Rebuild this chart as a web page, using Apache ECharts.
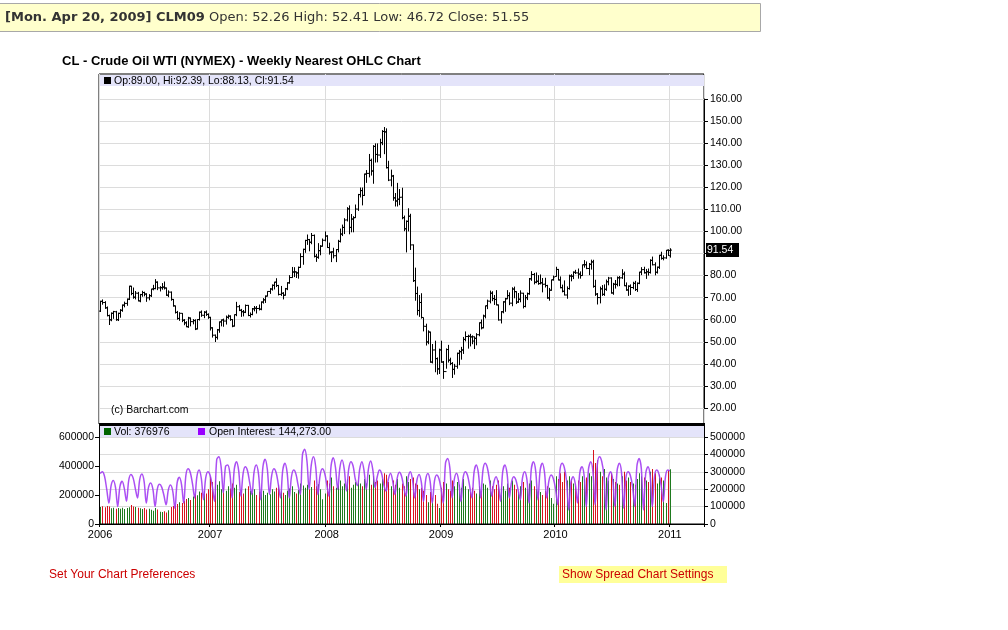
<!DOCTYPE html>
<html>
<head>
<meta charset="utf-8">
<title>CL - Crude Oil WTI (NYMEX) - Weekly Nearest OHLC Chart</title>
<script src="https://cdn.jsdelivr.net/npm/echarts@6/dist/echarts.min.js"></script>
<style>
html,body{margin:0;padding:0;background:#fff;}
#chart{width:1008px;height:630px;}
</style>
</head>
<body>
<div id="chart"></div>
<script>
// weekly bars: first bar is the week of Jan 16 2006, last one the week of Jan 3 2011
var firstWeek = '2006-01-16';
var emptyWeeks = 15;   // blank weeks right of the last bar

var opens = [
  63.9,68.3,67.8,65.4,61.9,60.0,62.9,63.6,60.0,62.9,64.3,66.6,67.4,69.3,75.2,71.9,70.2,72.0,68.5,71.4,72.3,71.6,69.9,70.9,73.9,74.1,77.0,74.4,74.5,74.8,74.4,71.1,72.5,69.2,66.3,63.3,60.6,62.9,59.8,58.6,56.8,60.8,59.1,59.6,55.8,60.1,63.4,62.0,63.4,62.4,
  61.1,56.3,53.0,52.0,55.4,59.0,59.9,59.4,61.1,61.6,60.1,57.1,62.3,65.9,64.3,63.6,63.4,66.5,61.9,62.4,64.9,65.2,65.1,64.8,68.0,69.0,70.7,72.8,73.9,75.6,77.0,75.5,71.5,72.0,71.1,74.0,76.7,79.1,81.6,81.7,81.2,83.7,88.6,91.9,95.9,96.3,95.1,98.2,88.7,88.3,91.3,93.3,96.0,
  97.9,92.7,90.6,90.7,89.0,91.8,95.5,98.8,101.8,105.2,110.2,101.8,105.6,106.2,110.1,116.7,118.5,116.3,126.0,126.3,132.2,127.4,138.5,134.9,134.6,140.2,145.3,145.1,128.9,123.3,125.1,115.2,113.8,114.6,115.5,106.2,101.2,104.6,106.9,93.9,77.7,71.9,64.2,67.8,61.0,57.0,49.9,54.4,40.8,46.3,42.4,37.7,
  46.3,40.8,36.5,46.5,41.7,40.2,37.5,38.9,44.8,45.5,46.3,51.1,52.4,52.5,52.2,52.26,51.6,53.2,58.6,56.3,61.7,66.3,68.4,72.0,69.6,69.2,66.7,59.9,63.6,68.1,69.5,70.9,67.5,73.9,72.7,68.0,69.3,72.0,66.0,70.0,71.8,78.5,80.5,77.0,77.4,76.4,76.7,76.1,75.5,69.9,73.4,78.1,
  79.6,82.8,78.0,74.5,72.9,71.2,74.1,79.8,79.7,81.5,81.2,80.7,80.0,84.9,84.9,83.2,85.1,86.2,75.1,71.6,70.0,74.0,71.5,73.8,77.2,78.9,72.1,76.1,76.0,79.0,79.0,80.7,75.4,73.5,75.2,74.6,76.5,73.7,76.5,81.6,82.7,81.3,81.7,81.4,86.9,84.9,81.5,83.8,89.2,87.8,88.0,91.5,89.00
];
var highs = [
  68.6,69.2,68.4,66.0,62.3,63.3,64.0,64.0,63.2,64.8,66.9,68.2,69.6,75.4,75.35,74.6,73.0,72.6,71.7,73.1,72.7,72.0,71.6,74.0,75.8,78.4,77.4,75.2,76.6,77.3,74.6,73.3,72.8,69.4,66.4,64.0,63.4,63.0,60.3,59.3,61.3,61.0,60.3,60.2,60.3,63.7,64.2,63.9,64.2,62.9,
  61.3,56.6,53.3,55.8,59.2,60.1,60.5,61.9,62.3,62.0,60.3,62.4,68.1,66.7,64.9,64.4,66.9,66.7,63.3,65.3,66.2,66.2,66.9,68.3,69.8,71.0,72.9,74.3,76.0,77.2,78.8,75.8,75.3,72.5,74.4,77.0,80.2,83.9,83.8,81.8,84.1,90.1,92.2,96.2,98.6,96.6,99.3,98.6,89.8,94.7,93.8,96.8,100.0,
  98.3,94.9,91.0,92.6,92.0,96.2,101.3,103.1,106.0,111.0,111.8,107.9,106.9,112.2,117.0,119.9,119.9,126.2,127.8,135.1,133.0,139.1,139.9,139.9,142.0,145.9,147.3,146.7,132.0,128.0,125.6,117.4,122.0,119.2,119.8,107.2,105.0,110.5,108.0,94.1,83.6,75.0,71.2,72.0,61.0,58.2,55.2,54.6,49.0,50.5,42.9,46.9,
  50.5,41.3,47.0,48.6,42.8,40.8,40.0,45.1,46.3,47.7,52.2,54.7,53.2,53.6,52.9,52.41,53.9,58.8,60.1,62.3,66.4,69.1,73.2,72.9,71.2,73.4,66.9,63.9,68.4,69.9,73.4,72.4,74.7,75.0,72.9,72.1,73.3,72.2,71.2,72.3,78.9,82.0,81.2,81.4,80.2,80.5,78.9,79.0,75.8,74.4,78.2,80.0,
  84.0,83.0,79.6,75.9,77.8,75.1,80.4,80.6,81.9,82.6,83.2,81.9,85.0,87.0,86.4,85.7,87.2,87.15,78.1,72.1,75.0,75.7,76.0,78.2,79.4,79.2,76.7,78.0,79.6,79.8,82.9,81.8,76.9,75.6,76.0,77.2,77.6,76.9,81.7,83.8,84.0,83.0,83.2,87.4,88.6,86.0,84.1,89.4,90.8,89.2,91.6,91.9,92.39
];
var lows = [
  63.5,66.8,64.9,61.5,57.6,59.3,60.4,59.5,59.4,60.9,63.6,65.6,66.3,68.9,71.1,69.5,69.2,68.3,67.9,70.4,70.6,68.1,68.8,70.3,73.3,73.8,73.4,72.8,73.6,73.7,70.8,70.2,68.6,65.9,62.8,60.0,59.5,58.9,57.5,56.6,56.3,57.0,57.9,55.3,55.6,59.6,61.3,60.7,61.7,60.4,
  55.1,51.9,49.9,51.0,54.1,57.0,56.8,57.8,60.4,59.5,56.6,56.9,61.6,63.9,61.3,61.5,63.0,61.6,61.0,62.0,63.8,62.8,64.2,64.3,67.3,67.6,70.5,71.7,73.2,73.7,74.8,71.0,70.8,69.2,70.9,73.4,76.3,79.0,79.3,78.9,78.6,83.5,84.9,90.3,93.9,91.0,94.2,88.2,86.2,87.6,89.2,93.1,95.5,
  92.5,89.5,86.1,87.8,86.1,90.5,95.0,97.9,98.8,104.5,98.7,99.6,99.6,106.1,109.3,115.4,111.8,116.1,122.0,124.5,125.3,121.6,131.2,131.3,133.3,139.1,135.0,128.5,122.8,120.4,113.9,111.3,111.3,111.9,105.5,100.1,90.5,100.0,91.6,77.1,68.6,62.0,61.3,60.5,54.7,48.3,48.9,40.5,40.2,36.2,35.1,35.4,
  40.5,33.2,37.8,40.6,39.4,33.6,35.1,37.8,39.4,41.9,44.5,50.2,46.9,47.9,48.9,46.72,48.4,52.5,55.6,56.1,60.6,64.8,67.4,68.4,66.7,66.5,59.6,58.3,62.9,63.6,69.3,66.6,66.1,69.7,67.1,67.6,67.9,65.1,65.6,68.9,71.3,77.6,76.0,76.5,75.8,76.0,72.4,74.6,69.5,68.6,73.1,77.7,
  79.5,77.8,74.2,72.4,71.0,69.5,73.6,77.4,78.4,80.7,78.6,78.6,79.9,83.6,82.9,80.2,82.7,74.5,70.8,66.9,67.4,70.8,70.8,73.1,75.6,71.8,71.3,74.1,75.1,75.2,78.5,75.2,73.1,70.8,71.2,73.8,73.0,72.6,76.1,80.2,80.9,78.5,80.0,80.9,84.6,80.1,80.9,83.0,87.2,86.9,87.6,88.9,88.13
];
var closes = [
  68.35,67.76,65.37,61.84,59.88,62.91,63.67,60.00,62.86,64.26,66.63,67.39,69.32,75.17,71.88,70.19,72.04,68.53,71.37,72.33,71.63,69.89,70.87,73.93,74.09,77.03,74.43,74.54,74.76,74.35,71.14,72.51,69.20,66.25,63.33,60.55,62.91,59.76,58.57,56.82,60.75,59.14,59.58,55.81,60.08,63.43,62.03,63.43,62.41,61.05,
  56.31,52.99,51.99,55.42,59.02,59.89,59.39,61.14,61.64,60.05,57.11,62.28,65.87,64.28,63.63,63.38,66.46,61.93,62.37,64.94,65.20,65.08,64.76,68.00,68.99,70.68,72.81,73.93,75.57,77.02,75.48,71.47,71.98,71.09,74.04,76.70,79.10,81.62,81.66,81.22,83.69,88.60,91.86,95.93,96.32,95.10,98.18,88.71,88.28,91.27,93.31,96.00,97.91,
  92.69,90.57,90.71,88.96,91.77,95.50,98.81,101.84,105.15,110.21,101.84,105.62,106.23,110.14,116.69,118.52,116.32,125.96,126.29,132.19,127.35,138.54,134.86,134.62,140.21,145.29,145.08,128.88,123.26,125.10,115.20,113.77,114.59,115.46,106.23,101.18,104.55,106.89,93.88,77.70,71.85,64.15,67.81,61.04,57.04,49.93,54.43,40.81,46.28,42.36,37.71,46.34,
  40.83,36.51,46.47,41.68,40.17,37.51,38.94,44.76,45.52,46.25,51.06,52.38,52.51,52.24,50.33,51.55,53.20,58.63,56.34,61.67,66.31,68.44,72.04,69.55,69.16,66.73,59.89,63.56,68.05,69.45,70.93,67.51,73.89,72.74,68.02,69.29,72.04,66.02,69.95,71.77,78.53,80.50,77.00,77.43,76.35,76.72,76.05,75.47,69.87,73.36,78.05,79.36,
  82.75,78.00,74.54,72.89,71.19,74.13,79.81,79.66,81.50,81.24,80.68,80.00,84.87,84.92,83.24,85.12,86.15,75.11,71.61,70.04,73.97,71.51,73.78,77.18,78.86,72.14,76.09,76.01,78.98,78.95,80.70,75.39,73.46,75.17,74.60,76.45,73.66,76.49,81.58,82.66,81.25,81.69,81.43,86.85,84.88,81.51,83.76,89.19,87.79,88.02,91.51,91.38,91.54
];
// weekly volume, thousands of contracts
var volumeK = [
  118,122,115,125,120,108,112,105,110,106,112,104,110,115,131,120,118,112,108,104,110,100,106,98,92,110,100,85,82,88,80,95,118,125,132,138,150,145,160,172,180,165,190,205,198,225,215,230,210,240,
  326,290,300,270,295,240,250,230,260,245,280,250,270,220,235,210,245,260,230,215,240,200,225,210,230,200,215,205,240,225,250,270,230,215,200,230,245,260,220,210,235,280,265,250,270,240,255,300,260,275,240,170,210,
  300,280,320,260,250,270,300,260,280,310,330,250,270,290,300,280,260,310,280,340,270,330,290,300,280,310,350,340,290,260,300,270,310,250,280,260,330,290,310,320,280,270,240,250,230,200,150,220,180,200,140,110,
  250,290,280,240,230,300,260,290,270,250,310,260,240,220,250,230,210,260,230,280,270,250,300,260,240,270,300,250,260,230,280,250,300,270,240,220,260,290,250,240,280,300,260,240,230,220,200,230,260,250,180,140,
  330,310,350,290,360,300,330,310,280,260,300,290,330,310,320,350,330,510,420,440,360,330,380,320,300,350,310,290,280,270,330,360,300,320,290,280,270,310,350,330,320,300,290,360,380,350,280,340,320,300,145,370,376.976
];
// open interest of the nearest contract, thousands
var openInterestK = [
  290,300,275,200,120, 220,250,210,100, 215,245,205,131, 250,285,265,205,150, 255,287,245,120, 210,236,200,100, 200,228,212,165,110, 195,224,190,90, 235,268,228,120, 280,318,296,230,150, 272,310,263,140, 265,301,280,217,130,
  370,387,330,180, 330,339,290,150, 315,358,305,160, 290,329,306,237,170, 300,339,288,140, 327,372,316,170, 280,318,296,229,150, 307,349,297,150, 273,310,288,223,170, 400,429,365,200, 340,387,329,170, 280,318,296,229,160,
  335,381,324,200, 324,368,313,190, 315,358,333,258,220, 315,358,304,200, 319,362,308,210, 273,310,288,223,190, 256,291,247,170, 261,297,276,214,160, 264,300,255,150, 250,285,242,130, 255,290,246,120, 248,282,262,203,120,
  350,377,320,150, 256,291,247,130, 265,301,280,217,150, 300,339,288,150, 307,349,325,251,160, 240,272,231,130, 300,339,288,150, 240,272,253,196,140, 265,301,256,120, 315,358,304,140, 307,349,297,150, 248,282,262,203,110,
  307,349,325,251,80, 240,272,231,120, 290,329,280,100, 315,358,304,110, 340,387,360,279,80, 265,301,256,100, 307,349,297,90, 265,301,280,217,100, 332,377,320,80, 290,329,280,100, 273,310,288,223,128, 273,310,305
];
var volumeLabel = 'Vol: 376976';
var oiLabel = 'Open Interest: 144,273.00';

var FONT = "'Liberation Sans', Arial, sans-serif";
var BANNER_FONT = "'DejaVu Sans', Verdana, sans-serif";
var GRID_COLOR = '#dcdcdc';
var UP = '#1e7a1e', DOWN = '#d8141c', OI_COLOR = '#a23cf2';

function weekList(start, n) {
  var t = Date.parse(start + 'T00:00:00Z'), out = [];
  for (var i = 0; i < n; i++) {
    out.push(new Date(t + i * 7 * 86400000).toISOString().slice(0, 10));
  }
  return out;
}
var weeks = weekList(firstWeek, closes.length + emptyWeeks);
function yearStart(index) {
  return index === 0 || weeks[index].slice(0, 4) !== weeks[index - 1].slice(0, 4);
}

var ohlcData = closes.map(function (c, i) { return [i, opens[i], highs[i], lows[i], c]; });
var volData = volumeK.map(function (v, i) { return [i, Math.round(v * 1000), closes[i] >= opens[i] ? 1 : 0]; });
var oiData = openInterestK.map(function (v) { return v * 1000; });

function renderOHLC(params, api) {
  var i = api.value(0);
  var o = api.coord([i, api.value(1)]);
  var h = api.coord([i, api.value(2)]);
  var l = api.coord([i, api.value(3)]);
  var c = api.coord([i, api.value(4)]);
  var x = Math.round(h[0]) + 0.5;
  var st = { stroke: '#000', lineWidth: 1 };
  return {
    type: 'group',
    children: [
      { type: 'line', shape: { x1: x, y1: h[1], x2: x, y2: l[1] }, style: st },
      { type: 'line', shape: { x1: x - 1.5, y1: o[1], x2: x, y2: o[1] }, style: st },
      { type: 'line', shape: { x1: x, y1: c[1], x2: x + 1.5, y2: c[1] }, style: st }
    ]
  };
}
function renderVolume(params, api) {
  var i = api.value(0);
  var top = api.coord([i, api.value(1)]);
  var base = api.coord([i, 0]);
  return {
    type: 'rect',
    shape: { x: Math.round(top[0]), y: top[1], width: 1, height: base[1] - top[1] },
    style: { fill: api.value(2) ? UP : DOWN }
  };
}

var last = closes.length - 1;
var legendText = 'Op:' + opens[last].toFixed(2) + ', Hi:' + highs[last].toFixed(2) +
  ', Lo:' + lows[last].toFixed(2) + ', Cl:' + closes[last].toFixed(2);

var axisFont = { fontFamily: FONT, fontSize: 10.5, color: '#000' };
function plain(v) { return String(v); }

var myChart = echarts.init(document.getElementById('chart'));
option = {
  animation: false,
  backgroundColor: '#fff',
  grid: [
    { left: 99, right: 304, top: 74, bottom: 206, show: true, borderColor: '#000', borderWidth: 1, backgroundColor: '#fff' },
    { left: 99, right: 304, top: 99, bottom: 222 },
    { left: 99, right: 304, top: 437, bottom: 106 }
  ],
  xAxis: [
    {
      gridIndex: 0, type: 'category', data: weeks, boundaryGap: true,
      axisLine: { show: false }, axisTick: { show: false }, axisLabel: { show: false },
      splitLine: { show: true, interval: yearStart, lineStyle: { color: GRID_COLOR } }
    },
    { gridIndex: 1, type: 'category', data: weeks, boundaryGap: true, show: false },
    {
      gridIndex: 2, type: 'category', data: weeks, boundaryGap: true,
      axisLine: { lineStyle: { color: '#000' } },
      axisTick: { show: true, interval: yearStart, length: 3, lineStyle: { color: '#000' } },
      axisLabel: {
        interval: yearStart, margin: 5, fontFamily: FONT, fontSize: 11, color: '#000',
        formatter: function (v) { return v.slice(0, 4); }
      },
      splitLine: { show: true, interval: yearStart, lineStyle: { color: GRID_COLOR } }
    }
  ],
  yAxis: [
    { gridIndex: 0, type: 'value', min: 0, max: 1, show: false },
    {
      gridIndex: 1, type: 'value', position: 'right', min: 20, max: 160, interval: 10,
      axisLine: { show: true, lineStyle: { color: '#000' } },
      axisTick: { show: true, length: 4, lineStyle: { color: '#000' } },
      axisLabel: Object.assign({ margin: 6, formatter: function (v) { return v.toFixed(2); } }, axisFont),
      splitLine: { show: true, lineStyle: { color: GRID_COLOR } }
    },
    {
      gridIndex: 2, type: 'value', position: 'left', min: 0, max: 600000, interval: 200000,
      axisLine: { show: true, lineStyle: { color: '#000' } },
      axisTick: { show: true, length: 4, lineStyle: { color: '#000' } },
      axisLabel: Object.assign({ margin: 5, formatter: plain }, axisFont),
      splitLine: { show: false }
    },
    {
      gridIndex: 2, type: 'value', position: 'right', min: 0, max: 500000, interval: 100000,
      axisLine: { show: true, lineStyle: { color: '#000' } },
      axisTick: { show: true, length: 4, lineStyle: { color: '#000' } },
      axisLabel: Object.assign({ margin: 6, formatter: plain }, axisFont),
      splitLine: { show: true, lineStyle: { color: GRID_COLOR } }
    }
  ],
  series: [
    {
      name: 'OHLC', type: 'custom', xAxisIndex: 1, yAxisIndex: 1,
      renderItem: renderOHLC, data: ohlcData, encode: { x: 0, y: [1, 2, 3, 4] }, z: 5
    },
    {
      name: 'Volume', type: 'custom', xAxisIndex: 2, yAxisIndex: 2,
      renderItem: renderVolume, data: volData, encode: { x: 0, y: 1 }, z: 3
    },
    {
      name: 'Open Interest', type: 'line', xAxisIndex: 2, yAxisIndex: 3,
      data: oiData, showSymbol: false, symbol: 'none', smooth: 0.35,
      lineStyle: { color: OI_COLOR, width: 1.5, opacity: 0.9 }, z: 4
    }
  ],
  graphic: [
    { id: 'banner', type: 'rect', shape: { x: -1, y: 3.5, width: 761.5, height: 28 }, style: { fill: '#ffffcc', stroke: '#a8a8a8', lineWidth: 1 }, z: 20 },
    {
      id: 'bannerText', type: 'text', x: 5, y: 17.5, z: 21,
      style: {
        text: '{b|[Mon. Apr 20, 2009] CLM09} Open: 52.26 High: 52.41 Low: 46.72 Close: 51.55',
        font: '13px ' + BANNER_FONT, fill: '#333', textVerticalAlign: 'middle',
        rich: { b: { font: 'bold 13px ' + BANNER_FONT, fill: '#333' } }
      }
    },
    {
      id: 'title', type: 'text', x: 62, y: 61.5, z: 21,
      style: { text: 'CL - Crude Oil WTI (NYMEX) - Weekly Nearest OHLC Chart', font: 'bold 13px ' + FONT, fill: '#000', textVerticalAlign: 'middle' }
    },
    { id: 'priceBand', type: 'rect', shape: { x: 100, y: 75, width: 604, height: 11 }, style: { fill: '#e4e4fa' }, z: 20 },
    { id: 'priceSq', type: 'rect', shape: { x: 104, y: 77, width: 7, height: 7 }, style: { fill: '#000' }, z: 21 },
    { id: 'priceLeg', type: 'text', x: 114, y: 81, z: 21, style: { text: legendText, font: '10.5px ' + FONT, fill: '#000', textVerticalAlign: 'middle' } },
    { id: 'copy', type: 'text', x: 111, y: 410, z: 21, style: { text: '(c) Barchart.com', font: '10.5px ' + FONT, fill: '#000', textVerticalAlign: 'middle' } },
    { id: 'volFrame', type: 'rect', shape: { x: 99.5, y: 424.5, width: 605, height: 99.5 }, style: { fill: 'none', stroke: '#000', lineWidth: 1 }, z: 20 },
    { id: 'volBand', type: 'rect', shape: { x: 100, y: 426, width: 604, height: 11 }, style: { fill: '#e4e4fa' }, z: 20 },
    { id: 'split', type: 'rect', shape: { x: 99, y: 423, width: 606, height: 3 }, style: { fill: '#000' }, z: 22 },
    { id: 'volSq', type: 'rect', shape: { x: 104, y: 428, width: 7, height: 7 }, style: { fill: '#006400' }, z: 21 },
    { id: 'volLeg', type: 'text', x: 114, y: 432, z: 21, style: { text: volumeLabel, font: '10.5px ' + FONT, fill: '#000', textVerticalAlign: 'middle' } },
    { id: 'oiSq', type: 'rect', shape: { x: 198, y: 428, width: 7, height: 7 }, style: { fill: '#9900ff' }, z: 21 },
    { id: 'oiLeg', type: 'text', x: 209, y: 432, z: 21, style: { text: oiLabel, font: '10.5px ' + FONT, fill: '#000', textVerticalAlign: 'middle' } },
    { id: 'prefs', type: 'text', x: 49, y: 575, z: 21, style: { text: 'Set Your Chart Preferences', font: '12px ' + FONT, fill: '#cc0000', textVerticalAlign: 'middle' } },
    { id: 'spreadBox', type: 'rect', shape: { x: 559, y: 566, width: 168, height: 17 }, style: { fill: '#ffff99' }, z: 20 },
    { id: 'spread', type: 'text', x: 562, y: 575, z: 21, style: { text: 'Show Spread Chart Settings', font: '12px ' + FONT, fill: '#cc0000', textVerticalAlign: 'middle' } }
  ]
};
myChart.setOption(option);

// last close tag on the price axis, covering the tick label under it
var tagY = myChart.convertToPixel({ yAxisIndex: 1 }, closes[last]);
myChart.setOption({
  graphic: [
    { id: 'lastTagBox', type: 'rect', shape: { x: 706, y: Math.round(tagY) - 7, width: 33, height: 14 }, style: { fill: '#000' }, z: 30 },
    {
      id: 'lastTag', type: 'text', x: 707, y: tagY, z: 31,
      style: { text: closes[last].toFixed(2), font: '10.5px ' + FONT, fill: '#fff', textVerticalAlign: 'middle' }
    }
  ]
});
</script>
</body>
</html>
